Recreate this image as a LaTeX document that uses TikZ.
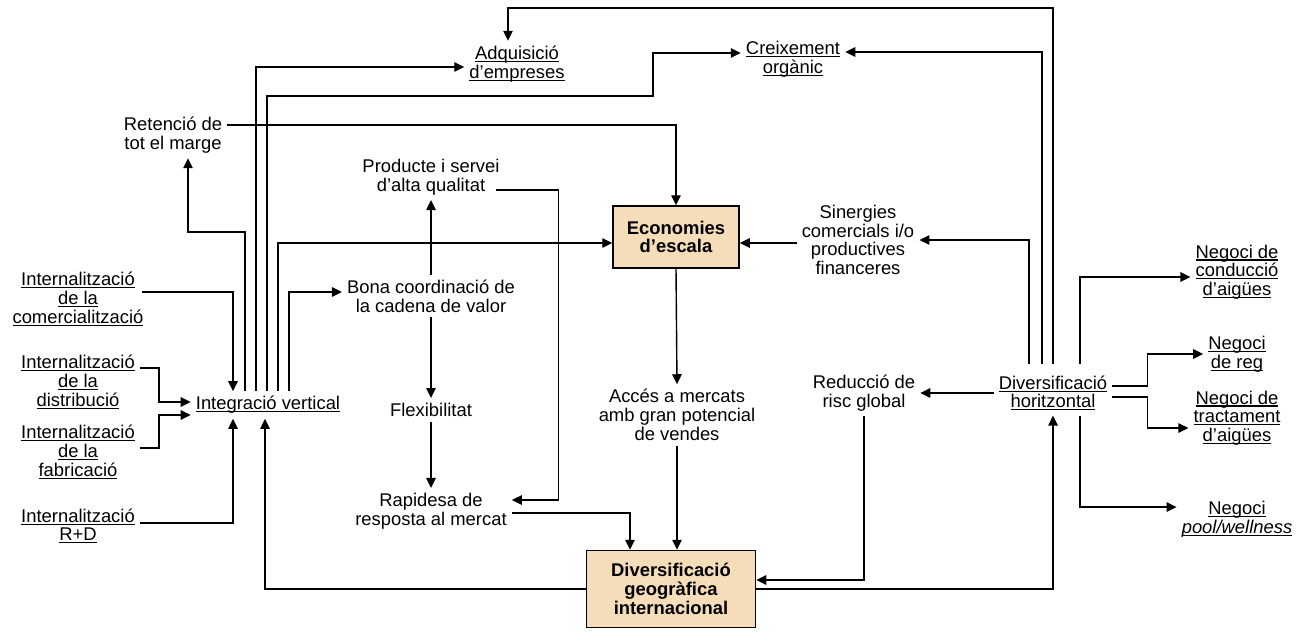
\documentclass[tikz,border=0pt]{standalone}
\usepackage{fontspec}
\setmainfont{Liberation Sans}
\usepackage{xcolor}
\usepackage{tikz}
\usetikzlibrary{arrows.meta, positioning}

\definecolor{boxfill}{HTML}{F4DDB8}
\newcommand{\ulin}[1]{\leavevmode\setbox0=\hbox{#1}\rlap{\rule[-2.6pt]{\wd0}{1.2pt}}\box0}

\begin{document}
\begin{tikzpicture}[
    x=1pt, y=-1pt,
    font=\fontsize{18.4}{18.7}\selectfont,
    lbl/.style={align=center, inner sep=5pt},
    box/.style={rectangle, draw, line width=1.5pt, fill=boxfill, align=center, font=\fontsize{18.4}{18.7}\selectfont\bfseries},
    arrow/.style={line width=1.4pt, -{Triangle[length=10pt,width=9.5pt]}}
]
\useasboundingbox (0,0) rectangle (1311,633);
\coordinate (top) at (0,8);

% Left column
\node[lbl] (com) at (78,299) {\ulin{Internalització}\\\ulin{de la}\\\ulin{comercialització}};
\node[lbl] (dist) at (78,382) {\ulin{Internalització}\\\ulin{de la}\\\ulin{distribució}};
\node[lbl] (fab) at (78,452) {\ulin{Internalització}\\\ulin{de la}\\\ulin{fabricació}};
\node[lbl] (rd) at (78,526) {\ulin{Internalització}\\\ulin{R+D}};
\node[lbl] (ret) at (173,135) {Retenció de\\tot el marge};
\node[lbl] (iv) at (268,405) {\ulin{Integració vertical}};

% Top
\node[lbl] (adq) at (517,64) {\ulin{Adquisició}\\\ulin{d’empreses}};
\node[lbl] (creix) at (793,59) {\ulin{Creixement}\\\ulin{orgànic}};

% Middle
\node[lbl] (prod) at (431,177) {Producte i servei\\d’alta qualitat};
\node[lbl] (bona) at (431,296) {Bona coordinació de\\la cadena de valor};
\node[lbl] (flex) at (431,410) {Flexibilitat};
\node[lbl] (rap) at (431,511) {Rapidesa de\\resposta al mercat};
\node[box, minimum width=126pt, minimum height=62pt] (econ) at (676,237) {Economies\\d’escala};
\node[lbl] (acces) at (677,415) {Accés a mercats\\amb gran potencial\\de vendes};
\node[box, minimum width=169pt, minimum height=77pt] (geo) at (671,589) {Diversificació\\geogràfica\\internacional};

% Right
\node[lbl] (sin) at (858,240) {Sinergies\\comercials i/o\\productives\\financeres};
\node[lbl] (red) at (864,393) {Reducció de\\risc global};
\node[lbl] (divh) at (1053,393) {\ulin{Diversificació}\\\ulin{horitzontal}};
\node[lbl] (neg1) at (1237,272) {\ulin{Negoci de}\\\ulin{conducció}\\\ulin{d’aigües}};
\node[lbl] (neg2) at (1237,354) {\ulin{Negoci}\\\ulin{de reg}};
\node[lbl] (neg3) at (1237,418) {\ulin{Negoci de}\\\ulin{tractament}\\\ulin{d’aigües}};
\node[lbl] (neg4) at (1237,519) {\ulin{Negoci}\\\ulin{\textit{pool/wellness}}};

% Into vertical integration
\draw[arrow] ([xshift=-7pt,yshift=7pt]com.east) -| ([xshift=-35pt]iv.north);
\draw[arrow] ([yshift=14pt]dist.east) -- ++(19,0) |- ([yshift=3pt]iv.west);
\draw[arrow] ([yshift=4pt]fab.east) -- ++(19,0) |- ([yshift=-10pt]iv.west);
\draw[arrow] ([yshift=3pt]rd.east) -| ([xshift=-35pt]iv.south);
\draw[arrow] (geo.west) -| ([xshift=-3pt]iv.south);

% Out of vertical integration
\draw[arrow] ([xshift=-23pt]iv.north) -- ++(0,-159) -| ([xshift=15pt]ret.south);
\draw[arrow] ([xshift=-12pt]iv.north) |- ([yshift=-3pt]adq.west);
\draw[arrow] ([xshift=-1pt]iv.north) -- ++(0,-295) -- ++(386,0) |- ([yshift=6pt]creix.west);
\draw[arrow] ([xshift=10pt]iv.north) |- ([yshift=-6pt]econ.west);
\draw[arrow] ([xshift=21pt]iv.north) |- ([yshift=4pt]bona.west);
\draw[arrow] ([yshift=10pt]ret.east) -| (econ.north);

% Value chain
\draw[arrow] (bona.north) -- (prod.south);
\draw[arrow] (bona.south) -- (flex.north);
\draw[arrow] (flex.south) -- (rap.north);
\draw[arrow] ([xshift=-9pt,yshift=-13pt]prod.east) -- ++(63,0) |- ([yshift=11pt]rap.east);
\draw[arrow] ([yshift=-2pt]rap.east) -| ([xshift=-41pt]geo.north);

% Economies of scale
\draw[arrow] (econ.south) -- (acces.north);
\draw[arrow] (acces.south) -- (acces.south |- geo.north);
\draw[arrow] ([yshift=-3pt]sin.west) -- ([yshift=-6pt]econ.east);

% Horizontal diversification
\draw[arrow] ([yshift=6pt]divh.north) -- (divh.north |- top) -| ([xshift=-9pt]adq.north);
\draw[arrow] ([xshift=-11pt,yshift=6pt]divh.north) |- ([yshift=7pt]creix.east);
\draw[arrow] ([xshift=-24pt,yshift=6pt]divh.north) |- (sin.east);
\draw[arrow] ([xshift=27pt,yshift=6pt]divh.north) |- ([yshift=-5pt]neg1.west);
\draw[arrow] ([yshift=7pt]divh.east) -- ++(35,0) |- (neg2.west);
\draw[arrow] ([yshift=-4pt]divh.east) -- ++(35,0) |- ([yshift=-10pt]neg3.west);
\draw[arrow] ([xshift=27pt]divh.south) |- ([yshift=12pt]neg4.west);
\draw[arrow] (divh.west) -- (red.east);
\draw[arrow] (red.south) |- ([yshift=9pt]geo.east);
\draw[arrow] (geo.east) -| (divh.south);

\end{tikzpicture}
\end{document}
